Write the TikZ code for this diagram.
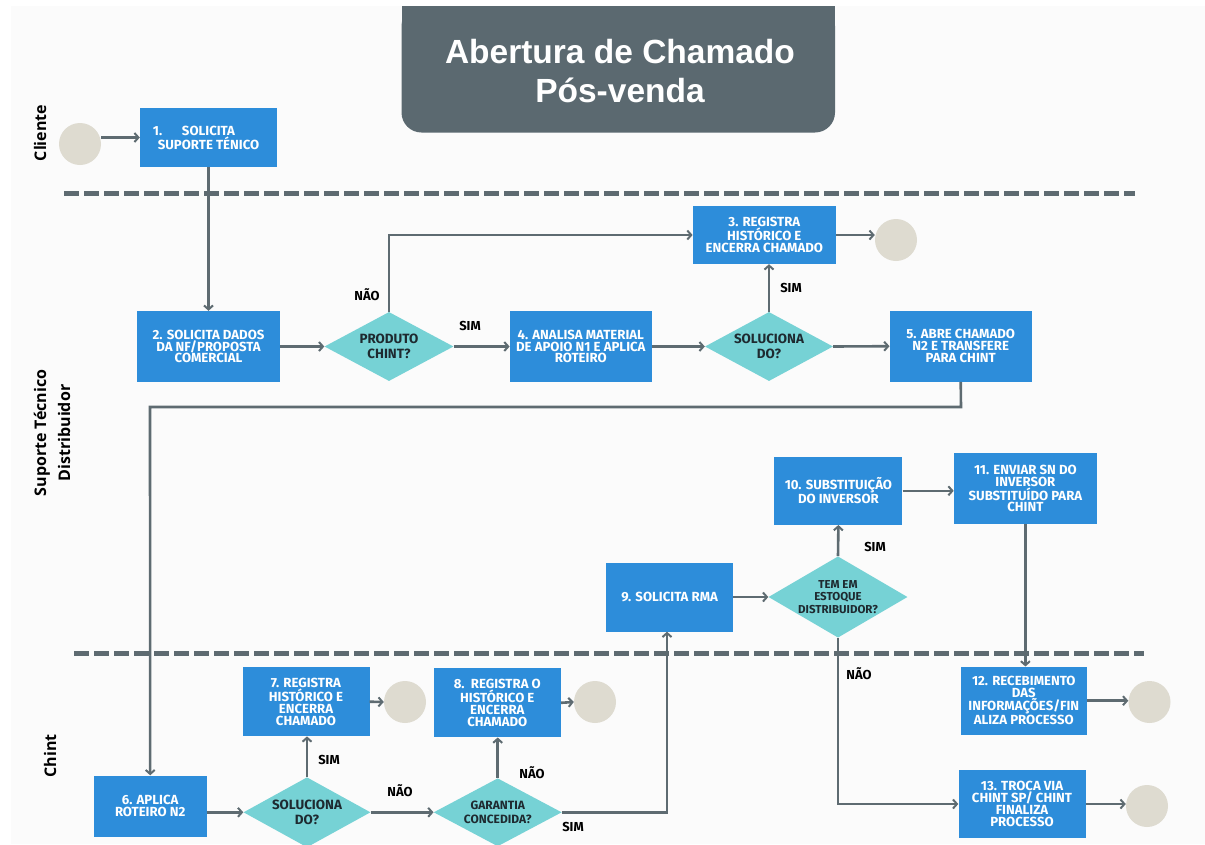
\documentclass[tikz,border=0pt]{standalone}
\usepackage{fontspec}
\setmainfont{Fira Sans}
\newfontfamily\titlefont{Liberation Sans}
\newfontfamily\lanefont{Open Sans}
\usetikzlibrary{shapes.geometric, arrows.meta}
\definecolor{boxblue}{HTML}{2D8DDA}
\definecolor{asked}{HTML}{76D2D5}
\definecolor{linegray}{HTML}{5E6B71}
\definecolor{titlegray}{HTML}{5B6970}
\definecolor{endbeige}{HTML}{DEDBD0}
\definecolor{paper}{HTML}{FBFBFB}
\definecolor{inktext}{HTML}{1E2A30}

\begin{document}
\begin{tikzpicture}[x=1pt, y=-1pt,
    task/.style={fill=boxblue, text=white, align=center, inner sep=0pt,
        font=\fontsize{13.2}{11.8}\selectfont\bfseries},
    ask/.style={diamond, fill=asked, text=inktext, align=center, inner sep=-8pt,
        font=\fontsize{13.4}{14.5}\selectfont\bfseries},
    endpt/.style={circle, fill=endbeige, minimum size=42pt, inner sep=0pt},
    flow/.style={linegray, line width=2.6pt,
        -{Straight Barb[length=4pt, width=9pt, line width=2pt]}},
    lanesep/.style={linegray, line width=5pt, dash pattern=on 14.5pt off 5.5pt},
    lanelbl/.style={rotate=90, align=center, text=black,
        font=\lanefont\fontsize{16}{24}\selectfont\bfseries},
    answer/.style={text=black, font=\fontsize{13}{13}\selectfont\bfseries}]

    % Page
    \useasboundingbox (0,0) rectangle (1205,844);
    \fill[white] (0,0) rectangle (1205,844);
    \fill[paper] (11,6) rectangle (1205,844);

    % Title
    \fill[titlegray, rounded corners=20pt] (401.5,6) rectangle (835,132.5);
    \fill[titlegray] (401.5,6) rectangle (835,60);
    \node[text=white, align=center, font=\titlefont\fontsize{33.5}{38.7}\selectfont\bfseries]
        (title) at (620,71) {Abertura de Chamado\\Pós-venda};

    % Lanes
    \node[lanelbl] (cli) at (40,133) {Cliente};
    \node[lanelbl] (sup) at (52,433) {Suporte Técnico\\Distribuidor};
    \node[lanelbl] (chi) at (50,756) {Chint};
    \draw[lanesep] (64,193) -- (1135,193);
    \draw[lanesep] (74,653) -- (1144,653);

    % Cliente
    \node[endpt] (e0) at (80,144) {};
    \node[task, minimum width=137pt, minimum height=59pt] (s1) at (208.5,137.5)
        {\llap{1.\hspace{1.5em}}SOLICITA\\SUPORTE TÉNICO};

    % Suporte tecnico
    \node[task, minimum width=143pt, minimum height=71pt] (s2) at (208.5,346.5)
        {2. SOLICITA DADOS\\DA NF/PROPOSTA\\COMERCIAL};
    \node[ask, minimum width=129pt, minimum height=69pt] (q1) at (389,346.5)
        {PRODUTO\\CHINT?};
    \node[task, minimum width=142pt, minimum height=71pt] (s4) at (580.8,346.5)
        {4. ANALISA MATERIAL\\DE APOIO N1 E APLICA\\ROTEIRO};
    \node[ask, minimum width=128pt, minimum height=69pt] (q2) at (769,346.5)
        {SOLUCIONA\\DO?};
    \node[task, minimum width=142pt, minimum height=71pt] (s5) at (960.7,346.2)
        {5. ABRE CHAMADO\\N2 E TRANSFERE\\PARA CHINT};
    \node[task, minimum width=143pt, minimum height=58pt] (s3) at (764.3,235)
        {3. REGISTRA\\HISTÓRICO E\\ENCERRA CHAMADO};
    \node[endpt] (e3) at (896,240) {};

    \node[task, minimum width=128pt, minimum height=68pt] (s10) at (838.4,490.8)
        {10. SUBSTITUIÇÃO\\DO INVERSOR};
    \node[task, minimum width=143pt, minimum height=71pt] (s11) at (1025.4,488.5)
        {11. ENVIAR SN DO\\INVERSOR\\SUBSTITUÍDO PARA\\CHINT};
    \node[task, minimum width=127pt, minimum height=69pt] (s9) at (669.7,597)
        {9. SOLICITA RMA};
    \node[ask, minimum width=139pt, minimum height=75pt,
        font=\fontsize{11.5}{12.7}\selectfont\bfseries] (q3) at (838,597)
        {TEM EM\\ESTOQUE\\DISTRIBUIDOR?};

    % Chint
    \node[task, minimum width=113pt, minimum height=61pt] (s6) at (150.2,806)
        {6. APLICA\\ROTEIRO N2};
    \node[ask, minimum width=127pt, minimum height=70pt] (q4) at (307,812.3)
        {SOLUCIONA\\DO?};
    \node[task, minimum width=127pt, minimum height=69pt] (s7) at (306,701.7)
        {7. REGISTRA\\HISTÓRICO E\\ENCERRA\\CHAMADO};
    \node[endpt] (e7) at (405,702) {};
    \node[ask, minimum width=128pt, minimum height=68pt,
        font=\fontsize{12}{13.3}\selectfont\bfseries] (q5) at (497.7,812.3)
        {GARANTIA\\CONCEDIDA?};
    \node[task, minimum width=127pt, minimum height=69pt] (s8) at (497.3,702.8)
        {8.\ \ REGISTRA O\\HISTÓRICO E\\ENCERRA\\CHAMADO};
    \node[endpt] (e8) at (595,702) {};
    \node[task, minimum width=126pt, minimum height=68pt] (s12) at (1023.8,700.7)
        {12. RECEBIMENTO\\DAS\\INFORMAÇÕES/FIN\\ALIZA PROCESSO};
    \node[endpt] (e12) at (1149.5,702) {};
    \node[task, minimum width=127pt, minimum height=68pt] (s13) at (1022,804)
        {13. TROCA VIA\\CHINT SP/ CHINT\\FINALIZA\\PROCESSO};
    \node[endpt] (e13) at (1147,806) {};

    % Bends
    \coordinate (k1) at (961,407);
    \coordinate (k2) at (150,407);
    \coordinate (k3) at (667,812.3);

    % Connectors
    \draw[flow] (e0.east |- s1.west) -- (s1.west);
    \draw[flow] (s1.south) -- (s2.north);
    \draw[flow] (s2.east) -- (q1.west);
    \draw[flow] (q1.east) -- (s4.west);
    \draw[flow] (q1.north) |- (s3.west);
    \draw[flow] (s4.east) -- (q2.west);
    \draw[flow] (q2.north) -- (q2.north |- s3.south);
    \draw[flow] (q2.east) -- (s5.west);
    \draw[flow] (s3.east) -- (s3.east -| e3.west);
    \draw[flow] (s5.south) -- (k1) -- (k2) -- (s6.north);
    \draw[flow] (s6.east |- q4.west) -- (q4.west);
    \draw[flow] (q4.north) -- (q4.north |- s7.south);
    \draw[flow] (s7.east) -- (e7.west);
    \draw[flow] (q4.east) -- (q5.west);
    \draw[flow] (q5.north) -- (q5.north |- s8.south);
    \draw[flow] (s8.east) -- (e8.west);
    \draw[flow] (q5.east) -- (k3) -- (k3 |- s9.south);
    \draw[flow] (s9.east) -- (q3.west);
    \draw[flow] (q3.north) -- (s10.south);
    \draw[flow] (s10.east) -- (s10.east -| s11.west);
    \draw[flow] (s11.south) -- (s11.south |- s12.north);
    \draw[flow] (q3.south) |- (s13.west);
    \draw[flow] (s12.east) -- (s12.east -| e12.west);
    \draw[flow] (s13.east) -- (s13.east -| e13.west);

    % Answers
    \node[answer] (a1) at (367,295) {NÃO};
    \node[answer] (a2) at (470,326) {SIM};
    \node[answer] (a3) at (791,288) {SIM};
    \node[answer] (a4) at (875,547) {SIM};
    \node[answer] (a5) at (859,674) {NÃO};
    \node[answer] (a6) at (329,760) {SIM};
    \node[answer] (a7) at (400,791) {NÃO};
    \node[answer] (a8) at (532,773) {NÃO};
    \node[answer] (a9) at (573,827) {SIM};
\end{tikzpicture}
\end{document}
